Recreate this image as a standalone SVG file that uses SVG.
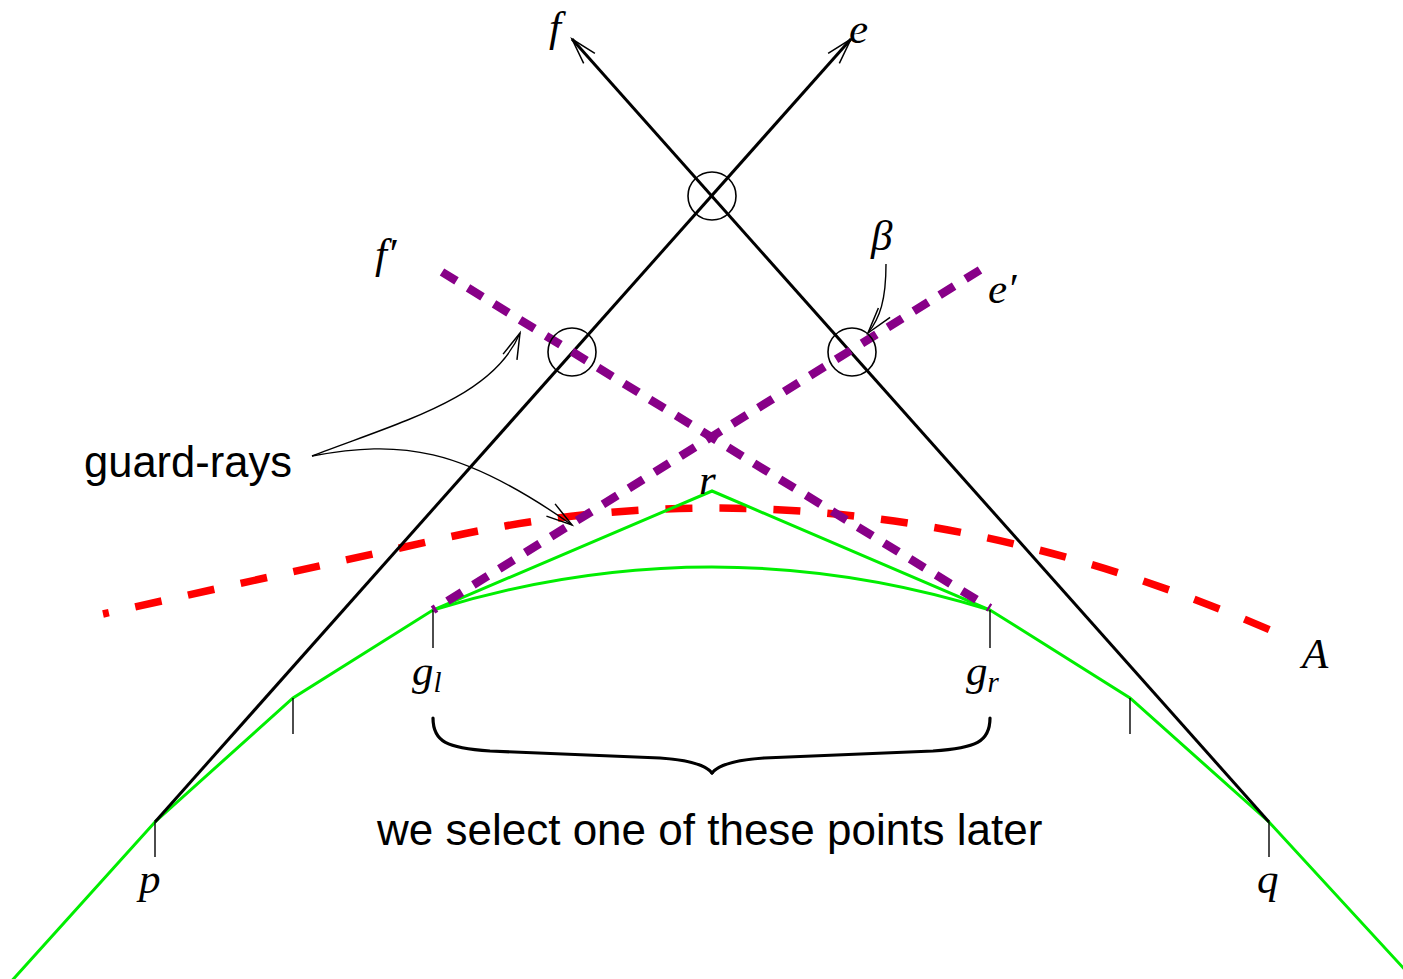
<svg xmlns="http://www.w3.org/2000/svg" width="1403" height="979" viewBox="0 0 1403 979">
<style>
.blk{fill:none;stroke:#000;stroke-width:3;stroke-linecap:butt}
.thin{fill:none;stroke:#000;stroke-width:1.4}
.tick{fill:none;stroke:#000;stroke-width:1.4}
.circ{fill:none;stroke:#000;stroke-width:1.6}
.grn{fill:none;stroke:#00ee00;stroke-width:3;stroke-linejoin:miter}
.pur{fill:none;stroke:#880088;stroke-width:8.5;stroke-dasharray:17 13.5}
.red{fill:none;stroke:#ff0000;stroke-width:7.5;stroke-dasharray:27 27;stroke-dashoffset:21}
.brace{fill:none;stroke:#000;stroke-width:3.2;stroke-linecap:round}
.math{font-family:"Liberation Serif","DejaVu Serif",serif;font-style:italic;font-size:43px;fill:#000}
.sub{font-size:29px}
.sans{font-family:"Liberation Sans",Arial,sans-serif;font-size:43.5px;fill:#000}
</style>
<defs>
<marker id="ah" markerUnits="userSpaceOnUse" viewBox="-30 -12 34 24" markerWidth="34" markerHeight="24" refX="0" refY="0" orient="auto" overflow="visible">
<path d="M-26,-7.5 L0,0 L-26,7.5" fill="none" stroke="#000" stroke-width="1.5"/>
</marker>
</defs>
<rect width="1403" height="979" fill="#fff"/>

<g id="curve-A">
<path class="red" d="M103,614 L442,538.6 C532,518.2 622,508 712,508 C898,508 1084,549 1270,630"/>
</g>

<g id="green-chain">
<polyline class="grn" points="8,985 155,822 293,698 433,610 712,491 990,610 1130,698 1269,822 1419,985"/>
<path class="grn" d="M433,610 Q712,524 990,610"/>
</g>

<g id="ticks">
<line class="tick" x1="155" y1="822" x2="155" y2="857"/>
<line class="tick" x1="293" y1="698" x2="293" y2="734"/>
<line class="tick" x1="433" y1="610" x2="433" y2="648"/>
<line class="tick" x1="990" y1="610" x2="990" y2="648"/>
<line class="tick" x1="1130" y1="698" x2="1130" y2="734"/>
<line class="tick" x1="1269" y1="822" x2="1269" y2="857"/>
</g>

<g id="rays">
<path class="blk" d="M155,822 L851,39" marker-end="url(#ah)"/>
<path class="blk" d="M1269,822 L572,39" marker-end="url(#ah)"/>
</g>

<g id="guard-rays">
<path class="pur" d="M442,272 L990,608"/>
<path class="pur" d="M980,270 L433,610"/>
</g>

<g id="circles">
<circle class="circ" cx="712" cy="196" r="24"/>
<circle class="circ" cx="572" cy="352" r="24"/>
<circle class="circ" cx="852" cy="352" r="24"/>
</g>

<g id="connectors">
<path class="thin" d="M312,456 C400,422 493,398 520,333" marker-end="url(#ah)"/>
<path class="thin" d="M312,456 C400,440 460,446 572,525" marker-end="url(#ah)"/>
<path class="thin" d="M886,264 C886,300 880,318 868,333" marker-end="url(#ah)"/>
</g>

<g id="brace">
<path class="brace" d="M433,718 C433,742 447,748 490,751 L660,758 C690,760 706,765 712,773"/>
<path class="brace" d="M990,718 C990,742 976,748 933,751 L764,758 C734,760 718,765 712,773"/>
</g>

<g id="labels">
<text class="math" x="549" y="41">f</text>
<text class="math" x="849" y="43">e</text>
<text class="math" x="375" y="268">f′</text>
<text class="math" x="871" y="250">β</text>
<text class="math" x="988" y="303">e′</text>
<text class="math" x="699" y="494">r</text>
<text class="math" x="1302" y="668">A</text>
<text class="math" x="412" y="685">g<tspan class="sub" dy="7">l</tspan></text>
<text class="math" x="966" y="685">g<tspan class="sub" dy="7">r</tspan></text>
<text class="math" x="139" y="893">p</text>
<text class="math" x="1257" y="893">q</text>
<text class="sans" x="84" y="477">guard-rays</text>
<text class="sans" x="377" y="845" style="font-size:44px">we select one of these points later</text>
</g>
</svg>
